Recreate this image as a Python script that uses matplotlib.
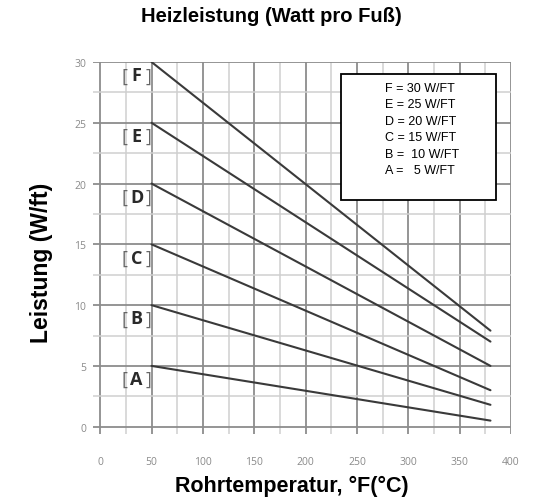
import matplotlib.pyplot as plt
from matplotlib.patches import Rectangle
from matplotlib.ticker import MultipleLocator

# pipe temperature range for each curve (°F)
temps = [50, 380]
# rating letters, output at 50°F and at 380°F (W/ft)
ratings = ['A', 'B', 'C', 'D', 'E', 'F']
start_w = [5, 10, 15, 20, 25, 30]
end_w = [0.5, 1.8, 3.0, 5.0, 7.0, 7.9]

legend_lines = ['F = 30 W/FT', 'E = 25 W/FT', 'D = 20 W/FT',
                'C = 15 W/FT', 'B =  10 W/FT', 'A =   5 W/FT']

plt.rcParams['font.family'] = ['Liberation Sans', 'DejaVu Sans']

fig = plt.figure(figsize=(5.49, 5.02), dpi=100)
ax = fig.add_axes([0.1694, 0.1335, 0.7614, 0.741])

for r, s, e in zip(ratings, start_w, end_w):
    ax.plot(temps, [s, e], color='#3a3a3a', lw=1.5, solid_capstyle='round', zorder=3)
    # letter in bold, brackets thin and lighter
    ax.annotate(r, (35.5, s - 1.1), ha='center', va='center', fontsize=13,
                fontweight='bold', color='#2a2a2a', family='Open Sans', zorder=3)
    for ch, dx in (('[', -8.5), (']', 8.5)):
        ax.annotate(ch, (35.5, s - 1.1), xytext=(dx, 0), textcoords='offset points',
                    ha='center', va='center', fontsize=13, color='#666666',
                    family='Open Sans', zorder=3)

ax.set_xlim(-7, 400)
ax.set_ylim(-0.6, 30)
ax.xaxis.set_major_locator(MultipleLocator(50))
ax.xaxis.set_minor_locator(MultipleLocator(25))
ax.yaxis.set_major_locator(MultipleLocator(5))
ax.yaxis.set_minor_locator(MultipleLocator(2.5))
ax.grid(which='major', color='#8c8c8c', lw=1.3, zorder=1)
ax.grid(which='minor', color='#cfcfcf', lw=1.1, zorder=1)
ax.set_axisbelow(True)
for sp in ax.spines.values():
    sp.set_visible(False)

ax.tick_params(which='both', length=0)
ax.tick_params(axis='x', pad=16)
ax.tick_params(axis='y', pad=5)
for lab in ax.get_xticklabels() + ax.get_yticklabels():
    lab.set_fontsize(7.5)
    lab.set_color('#8a8a8a')
    lab.set_family('Open Sans')

# titles placed in figure coords to match the original layout
fig.text(0.494, 0.956, 'Heizleistung (Watt pro Fuß)', ha='center', va='baseline',
         fontsize=14.5, fontweight='bold')
fig.text(0.532, 0.02, 'Rohrtemperatur, °F(°C)', ha='center', va='baseline',
         fontsize=15.5, fontweight='bold')
fig.text(0.0765, 0.476, 'Leistung (W/ft)', ha='center', va='center', rotation=90,
         fontsize=16.5, fontweight='bold')

# legend box
ax.add_patch(Rectangle((0.593, 0.629), 0.371, 0.339, transform=ax.transAxes,
                       facecolor='white', edgecolor='black', lw=1.3, zorder=4))
ax.text(0.698, 0.947, '\n'.join(legend_lines), transform=ax.transAxes,
        ha='left', va='top', fontsize=9, linespacing=1.5, zorder=5)

fig.savefig('out.png', dpi=100)
